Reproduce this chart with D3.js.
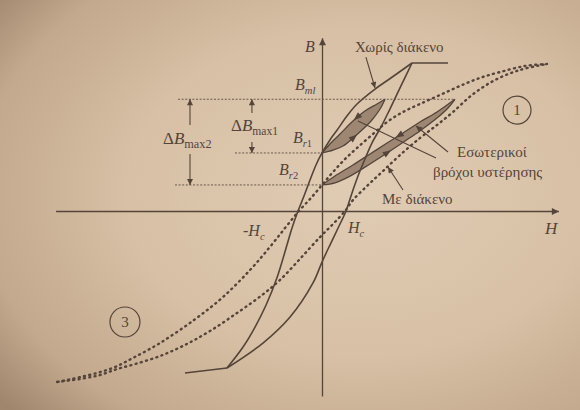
<!DOCTYPE html>
<html>
<head>
<meta charset="utf-8">
<script src="https://cdn.jsdelivr.net/npm/d3@7/dist/d3.min.js"></script>
<style>
  html, body { margin: 0; padding: 0; background: #d3bca2; }
  svg { display: block; }
  text { font-family: "Liberation Serif", "DejaVu Serif", "Times New Roman", serif; fill: #54443a; }
</style>
</head>
<body>
<svg id="chart" width="580" height="410"></svg>
<script>
// H is given in multiples of the coercive field Hc, B relative to the saturation flux density.

// Major B-H loop of the core without air gap (solid)
const noGapDescending = [[3.75,1.0],[2.75,0.885],[2.21,0.824],[1.46,0.723],[1.04,0.642],[0.63,0.547],[0.33,0.480],[0,0.392],[-0.25,0.311],[-0.5,0.209],[-0.75,0.101],[-1.0,0],[-1.25,-0.115],[-1.46,-0.230],[-1.88,-0.453],[-2.33,-0.635],[-2.79,-0.784],[-3.29,-0.919],[-3.96,-1.061]];
const noGapAscending = [[-3.96,-1.061],[-2.46,-0.892],[-1.33,-0.716],[-0.375,-0.486],[0,-0.345],[0.33,-0.230],[0.67,-0.115],[1.0,0],[1.25,0.122],[1.5,0.236],[1.79,0.351],[2.08,0.459],[2.46,0.568],[2.83,0.689],[3.29,0.845],[3.75,1.0]];
const saturationTop = [[3.75,1.0],[5.25,1.0]];
const saturationBottom = [[-5.71,-1.095],[-3.96,-1.061]];

// Major B-H loop of the core with air gap (dotted, sheared)
const gapDescending = [[9.375,0.993],[8.46,0.980],[7.42,0.939],[6.58,0.899],[5.75,0.845],[4.92,0.784],[4.08,0.723],[3.375,0.669],[2.71,0.601],[2.08,0.514],[1.46,0.426],[0.96,0.351],[0.46,0.264],[0,0.176],[-0.42,0.095],[-0.96,0],[-1.54,-0.115],[-2.17,-0.243],[-3.0,-0.399],[-4.125,-0.581],[-5.33,-0.736],[-6.75,-0.892],[-7.875,-0.993],[-8.625,-1.054],[-9.375,-1.095],[-10.08,-1.122],[-10.625,-1.142],[-11.04,-1.155]];
const gapAscending = [[-11.04,-1.155],[-10.08,-1.135],[-9.25,-1.108],[-8.54,-1.068],[-7.79,-1.034],[-6.75,-0.980],[-5.71,-0.905],[-4.67,-0.811],[-3.54,-0.689],[-2.5,-0.568],[-1.75,-0.466],[-0.92,-0.324],[-0.08,-0.176],[0.46,-0.088],[0.96,0],[1.29,0.074],[1.92,0.176],[2.54,0.270],[3.25,0.378],[4.08,0.493],[4.79,0.581],[5.46,0.669],[6.25,0.784],[7.21,0.885],[8.25,0.953],[9.375,0.993]];

// Inner (minor) hysteresis loops between the remanence and the peak flux level
const minorNoGapDown = [[2.625,0.755],[2.29,0.723],[1.79,0.676],[1.29,0.608],[0.75,0.520],[0.33,0.453],[0,0.392]];
const minorNoGapUp = [[0,0.392],[0.46,0.412],[0.875,0.439],[1.29,0.493],[1.71,0.554],[2.08,0.615],[2.42,0.689],[2.625,0.755]];
const minorGapDown = [[5.54,0.755],[4.79,0.669],[4.08,0.601],[3.375,0.527],[2.71,0.459],[2.0,0.385],[1.29,0.311],[0.54,0.236],[0,0.176]];
const minorGapUp = [[0,0.176],[0.54,0.19],[1.17,0.236],[2.0,0.318],[2.71,0.392],[3.46,0.473],[4.08,0.541],[4.79,0.628],[5.25,0.696],[5.54,0.755]];

// Characteristic flux levels
const Bml = 0.755, Br1 = 0.392, Br2 = 0.176;

const svg = d3.select("#chart");
const width = +svg.attr("width"), height = +svg.attr("height");
const ink = "#54443a";

const defs = svg.append("defs");
const paper = defs.append("radialGradient").attr("id", "paper")
  .attr("cx", "0.62").attr("cy", "0.47").attr("r", "0.8");
[["0", "#e0ccb4"], ["0.5", "#d7c0a5"], ["0.82", "#c3a98d"], ["1", "#a0866d"]]
  .forEach(([o, c]) => paper.append("stop").attr("offset", o).attr("stop-color", c));
svg.append("rect").attr("width", width).attr("height", height).attr("fill", "url(#paper)");

function marker(id, w, h) {
  defs.append("marker").attr("id", id).attr("viewBox", "0 0 10 10")
    .attr("refX", 10).attr("refY", 5).attr("markerUnits", "userSpaceOnUse")
    .attr("markerWidth", w).attr("markerHeight", h).attr("orient", "auto")
    .append("path").attr("d", "M0,0L10,5L0,10Z").attr("fill", ink);
}
marker("axisTip", 10, 7);
marker("tip", 8, 6);

const x = d3.scaleLinear().domain([-11, 10]).range([58, 562]);
const y = d3.scaleLinear().domain([-1.2, 1.2]).range([388.6, 33.4]);

const smooth = d3.line().x(d => x(d[0])).y(d => y(d[1])).curve(d3.curveCatmullRom.alpha(0.5));
const straight = d3.line().x(d => x(d[0])).y(d => y(d[1]));

// Axes (no ticks), arrowheads at the positive ends
const hAxis = d3.scaleLinear().domain([-11.1, 9.85]).range([x(-11.1), x(9.85)]);
const bAxis = d3.scaleLinear().domain([-1.25, 1.17]).range([y(-1.25), y(1.17)]);
svg.append("g").attr("transform", `translate(0,${y(0)})`)
  .call(d3.axisBottom(hAxis).tickValues([]).tickSizeOuter(0))
  .call(g => g.select(".domain").attr("stroke", ink).attr("stroke-width", 1.3).attr("marker-end", "url(#axisTip)"));
svg.append("g").attr("transform", `translate(${x(0)},0)`)
  .call(d3.axisLeft(bAxis).tickValues([]).tickSizeOuter(0))
  .call(g => g.select(".domain").attr("stroke", ink).attr("stroke-width", 1.3).attr("marker-end", "url(#axisTip)"));

// Reference levels Bml, Br1, Br2
const levels = [
  { B: Bml, from: -6.0, to: 5.54 },
  { B: Br1, from: -3.625, to: 0 },
  { B: Br2, from: -6.125, to: 0 }
];
svg.append("g").selectAll("path").data(levels).join("path")
  .attr("d", d => straight([[d.from, d.B], [d.to, d.B]]))
  .attr("fill", "none").attr("stroke", "#6a594b").attr("stroke-width", 1)
  .attr("stroke-dasharray", "2 1.6");

// Minor loops: shaded area and outline
const loops = [
  { down: minorNoGapDown, up: minorNoGapUp, fDown: 0.4, fUp: 0.42 },
  { down: minorGapDown, up: minorGapUp, fDown: 0.42, fUp: 0.46 }
];
const loopG = svg.append("g");
loops.forEach(l => {
  loopG.append("path").attr("d", smooth(l.up.concat(l.down.slice(1))) + "Z")
    .attr("fill", "#9d8773").attr("stroke", "none");
});

// Major loop without gap
const solid = svg.append("g").attr("fill", "none").attr("stroke", ink).attr("stroke-width", 1.6);
[noGapDescending, noGapAscending].forEach(c => solid.append("path").attr("d", smooth(c)));
[saturationTop, saturationBottom].forEach(c => solid.append("path").attr("d", straight(c)));

// Major loop with gap
const dotted = svg.append("g").attr("fill", "none").attr("stroke", ink)
  .attr("stroke-width", 2.4).attr("stroke-linecap", "round").attr("stroke-dasharray", "1 4.4");
[gapDescending, gapAscending].forEach(c => dotted.append("path").attr("d", smooth(c)));

// Minor loop outlines with direction arrows
function edgeArrow(node, frac) {
  const L = node.getTotalLength();
  const p = node.getPointAtLength(L * frac), q = node.getPointAtLength(L * frac + 1);
  const ang = Math.atan2(q.y - p.y, q.x - p.x) * 180 / Math.PI;
  loopG.append("path").attr("d", "M4.5,0L-4,-3.2L-4,3.2Z")
    .attr("transform", `translate(${p.x},${p.y}) rotate(${ang})`).attr("fill", ink);
}
loops.forEach(l => {
  const d = loopG.append("path").attr("d", smooth(l.down)).attr("fill", "none").attr("stroke", ink).attr("stroke-width", 1.3);
  const u = loopG.append("path").attr("d", smooth(l.up)).attr("fill", "none").attr("stroke", ink).attr("stroke-width", 1.3);
  edgeArrow(d.node(), l.fDown);
  edgeArrow(u.node(), l.fUp);
});

// Pointer lines for the annotations
const pointers = [
  { from: [1.83, 1.04], to: [2.21, 0.831], head: true },
  { from: [3.375, 0.142], to: [2.75, 0.297], head: true },
  { from: [4.75, 0.358], to: [1.5, 0.608], head: false },
  { from: [5.25, 0.399], to: [3.92, 0.574], head: true }
];
svg.append("g").selectAll("path").data(pointers).join("path")
  .attr("d", d => straight([d.from, d.to]))
  .attr("stroke", ink).attr("stroke-width", 1.1).attr("fill", "none")
  .attr("marker-end", d => d.head ? "url(#tip)" : null);

// ΔB markers: arrows from the label towards the two levels
const deltaArrows = [
  { H: -5.5, from: 0.581, to: Bml }, { H: -5.5, from: 0.385, to: Br2 },
  { H: -2.92, from: 0.662, to: Bml }, { H: -2.92, from: 0.466, to: Br1 }
];
svg.append("g").selectAll("path").data(deltaArrows).join("path")
  .attr("d", d => straight([[d.H, d.from], [d.H, d.to]]))
  .attr("stroke", ink).attr("stroke-width", 1.1).attr("fill", "none")
  .attr("marker-end", "url(#tip)");

// Labels
function label(parts, h, b, size, anchor, subScale) {
  const t = svg.append("text").attr("x", x(h)).attr("y", y(b))
    .attr("font-size", size).attr("text-anchor", anchor || "start");
  let shift = 0;
  parts.forEach(p => {
    const s = t.append("tspan").text(p.t);
    if (p.it) s.attr("font-style", "italic");
    if (p.sub) { s.attr("font-size", size * (subScale || 0.66)); if (shift === 0) { s.attr("dy", 4); shift = 4; } }
    else if (shift) { s.attr("dy", -shift); shift = 0; }
  });
  return t;
}
label([{ t: "B", it: 1 }], -0.71, 1.074, 16);
label([{ t: "B", it: 1 }, { t: "ml", it: 1, sub: 1 }], -1.125, 0.818, 16);
label([{ t: "B", it: 1 }, { t: "r", it: 1, sub: 1 }, { t: "1", sub: 1 }], -1.21, 0.459, 16);
label([{ t: "B", it: 1 }, { t: "r", it: 1, sub: 1 }, { t: "2", sub: 1 }], -1.79, 0.243, 16);
label([{ t: "Δ" }, { t: "B", it: 1 }, { t: "max1", sub: 1 }], -3.79, 0.541, 17, null, 0.68);
label([{ t: "Δ" }, { t: "B", it: 1 }, { t: "max2", sub: 1 }], -6.625, 0.453, 17, null, 0.72);
label([{ t: "-" }, { t: "H", it: 1 }, { t: "c", it: 1, sub: 1 }], -3.29, -0.169, 16);
label([{ t: "H", it: 1 }, { t: "c", it: 1, sub: 1 }], 1.08, -0.149, 16);
label([{ t: "H", it: 1 }], 9.29, -0.155, 17);
label([{ t: "Χωρίς διάκενο" }], 1.375, 1.074, 15);
label([{ t: "Εσωτερικοί" }], 5.625, 0.365, 15);
label([{ t: "βρόχοι υστέρησης" }], 4.625, 0.230, 15);
label([{ t: "Με διάκενο" }], 2.5, 0.047, 15);

// Circled region numbers
const regions = [{ n: "1", h: 8.125, b: 0.682, r: 14 }, { n: "3", h: -8.21, b: -0.75, r: 15 }];
const rg = svg.append("g").selectAll("g").data(regions).join("g")
  .attr("transform", d => `translate(${x(d.h)},${y(d.b)})`);
rg.append("circle").attr("r", d => d.r).attr("fill", "none").attr("stroke", ink).attr("stroke-width", 1.2);
rg.append("text").attr("text-anchor", "middle").attr("dy", "0.35em").attr("font-size", 15).text(d => d.n);
</script>
</body>
</html>
